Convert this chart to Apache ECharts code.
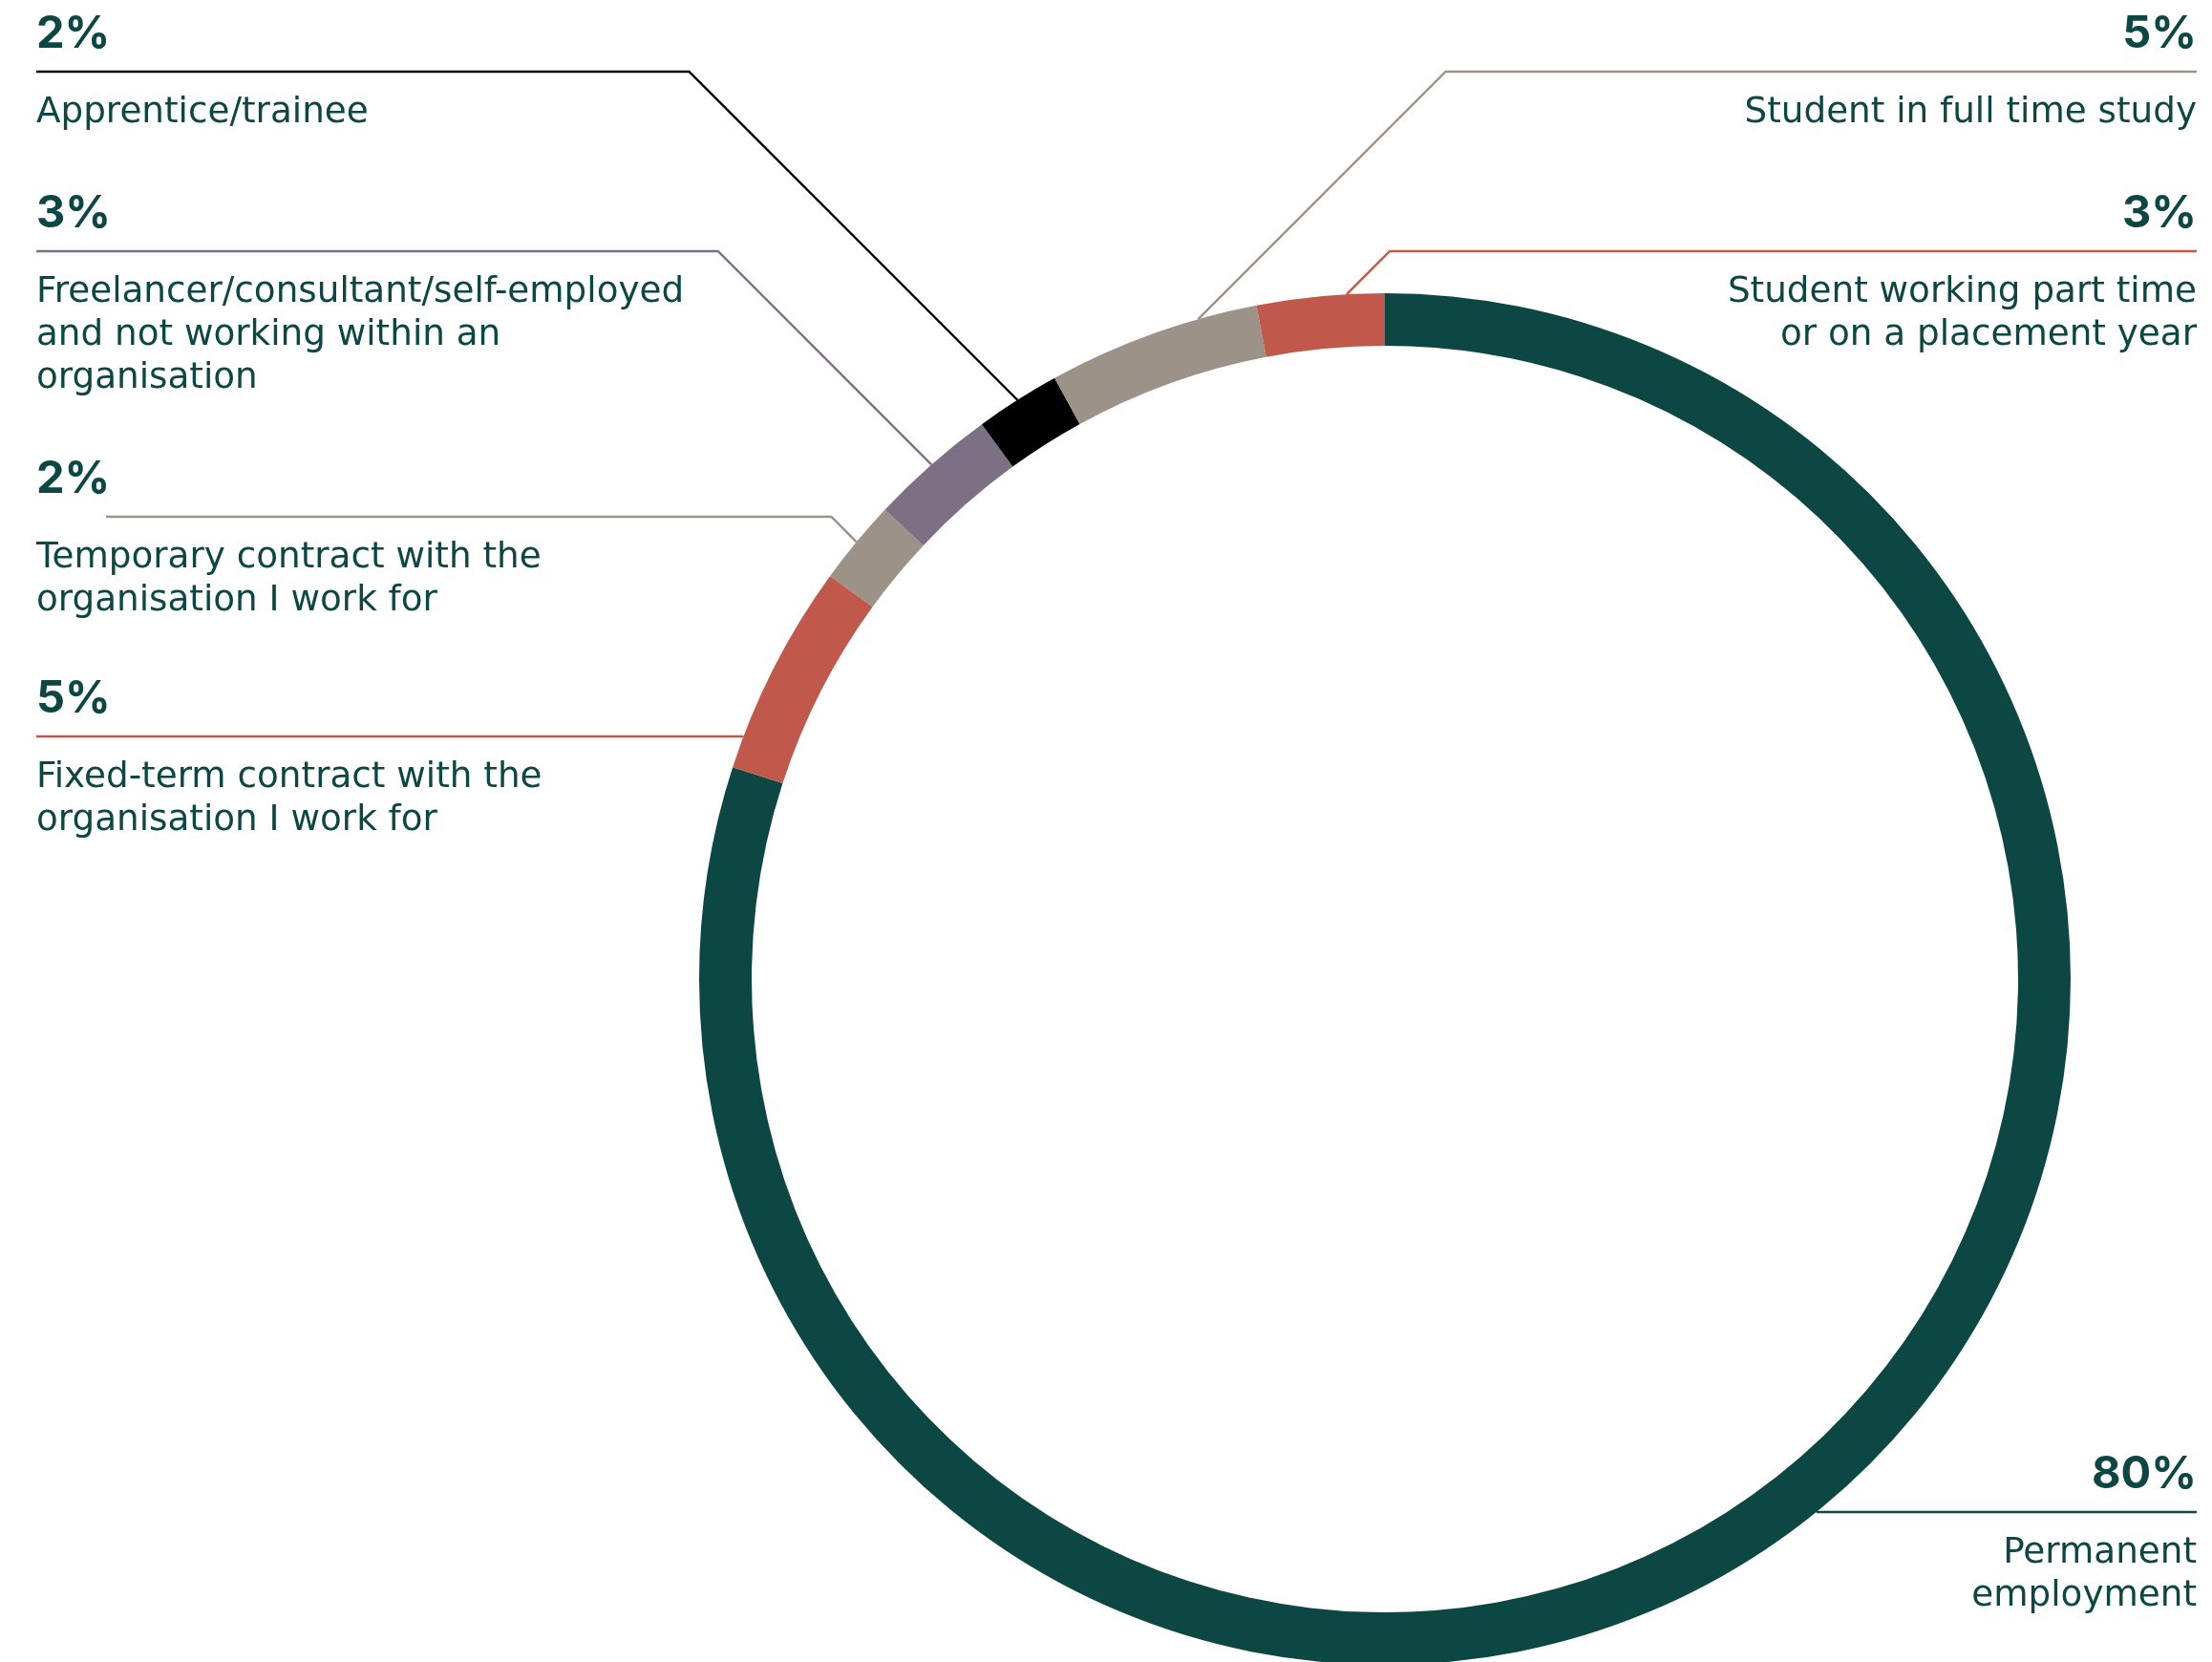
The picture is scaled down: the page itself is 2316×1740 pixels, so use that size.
<!DOCTYPE html>
<html>
<head>
<meta charset="utf-8">
<title>Employment status</title>
<script src="https://cdn.jsdelivr.net/npm/echarts@6/dist/echarts.min.js"></script>
<style>
  html, body { margin: 0; padding: 0; background: #ffffff; }
  #chart { width: 2316px; height: 1740px; }
</style>
</head>
<body>
<div id="chart"></div>
<script>
// slices, clockwise from 12 o'clock
const categories = [
  "Permanent employment",
  "Fixed-term contract with the organisation I work for",
  "Temporary contract with the organisation I work for",
  "Freelancer/consultant/self-employed and not working within an organisation",
  "Apprentice/trainee",
  "Student in full time study",
  "Student working part time or on a placement year"
];
const values = [80, 5, 2, 3, 2, 5, 3];
// how each category wraps in the label
const labelLines = [
  ["Permanent", "employment"],
  ["Fixed-term contract with the", "organisation I work for"],
  ["Temporary contract with the", "organisation I work for"],
  ["Freelancer/consultant/self-employed", "and not working within an", "organisation"],
  ["Apprentice/trainee"],
  ["Student in full time study"],
  ["Student working part time", "or on a placement year"]
];
const colors = ["#0c4744", "#c0584b", "#9c9288", "#7d7084", "#000000", "#9c9288", "#c0584b"];

// where each label block sits (y of its rule line) and how its leader is drawn
const labelSpots = [
  { side: "right", lineY: 1583, direct: true },
  { side: "left", lineY: 771, direct: true },
  { side: "left", lineY: 541, from: 111 },
  { side: "left", lineY: 263 },
  { side: "left", lineY: 75 },
  { side: "right", lineY: 75, nudge: 4 },
  { side: "right", lineY: 263, nudge: 2.2 }
];

const CENTER = [1450, 1025];
const RADIUS = [663, 718];
const LEFT_X = 38;
const RIGHT_X = 2300;
const TEXT = "#0c4744";

// start / end angle of each slice, degrees clockwise from top
const total = values.reduce((a, b) => a + b, 0);
const angles = [];
let acc = 0;
values.forEach(v => {
  const a0 = acc / total * 360;
  acc += v;
  angles.push([a0, acc / total * 360]);
});

const chart = echarts.init(document.getElementById("chart"));

const option = {
  backgroundColor: "#ffffff",
  animation: false,
  series: [
    {
      type: "pie",
      center: CENTER,
      radius: RADIUS,
      startAngle: 90,
      clockwise: true,
      avoidLabelOverlap: false,
      silent: true,
      itemStyle: { borderWidth: 0 },
      label: {
        show: true,
        position: "outside",
        width: 1000,
        formatter: p => {
          const i = p.dataIndex;
          return "{p|" + values[i] + "%}\n{g| }\n" +
            labelLines[i].map(s => "{d|" + s + "}").join("\n");
        },
        rich: {
          p: { fontFamily: "Inter", fontWeight: 700, fontSize: 47, lineHeight: 50, color: TEXT },
          g: { fontSize: 10, lineHeight: 35 },
          d: { fontFamily: "DejaVu Sans", fontSize: 37.3, lineHeight: 45, color: TEXT }
        }
      },
      labelLine: {
        show: true,
        length: 10,
        length2: 10,
        lineStyle: { width: 2.4 }
      },
      labelLayout: params => {
        const i = params.dataIndex;
        const s = labelSpots[i];
        const dir = s.side === "left" ? -1 : 1;
        const R = RADIUS[1];
        const L = s.lineY;
        let anchor, bend;
        if (s.direct) {
          const dy = L - CENTER[1];
          const x = CENTER[0] + dir * Math.sqrt(R * R - dy * dy);
          anchor = [x, L];
          bend = [x, L];
        } else {
          const mid = ((angles[i][0] + angles[i][1]) / 2 + (s.nudge || 0)) * Math.PI / 180;
          anchor = [CENTER[0] + R * Math.sin(mid), CENTER[1] - R * Math.cos(mid)];
          bend = [anchor[0] + dir * (anchor[1] - L), L];
        }
        const endX = s.side === "left" ? (s.from || LEFT_X) : RIGHT_X;
        return {
          x: s.side === "left" ? LEFT_X : RIGHT_X,
          y: L - 64,
          align: s.side,
          verticalAlign: "top",
          labelLinePoints: [anchor, bend, [endX, L]]
        };
      },
      data: values.map((v, i) => ({
        name: categories[i],
        value: v,
        itemStyle: { color: colors[i] }
      }))
    }
  ]
};

chart.setOption(option);
window.addEventListener("resize", () => chart.resize());
</script>
</body>
</html>
